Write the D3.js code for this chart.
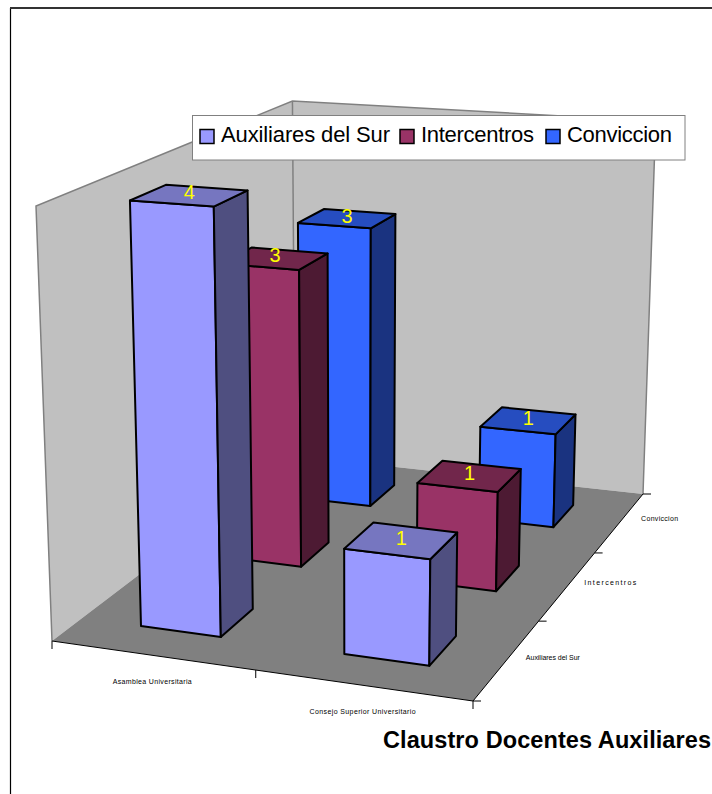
<!DOCTYPE html>
<html>
<head>
<meta charset="utf-8">
<script src="https://cdn.jsdelivr.net/npm/d3@7"></script>
<style>
  html, body { margin: 0; padding: 0; background: #fff; }
  svg { display: block; }
  text { font-family: "Liberation Sans", Arial, sans-serif; }
</style>
</head>
<body>
<svg id="chart" width="712" height="794"></svg>
<script>
// data
const categories = ["Asamblea Universitaria", "Consejo Superior Universitario"];
const seriesNames = ["Auxiliares del Sur", "Intercentros", "Conviccion"];
const auxiliares = [4, 1];
const intercentros = [3, 1];
const conviccion = [3, 1];
const seriesValues = [auxiliares, intercentros, conviccion];

const faceColors = [
  { front: "#9999ff", top: "#7676c0", side: "#4f4f80" },
  { front: "#993366", top: "#71264b", side: "#4d1a33" },
  { front: "#3366ff", top: "#264dc0", side: "#1a3380" }
];

const svg = d3.select("#chart");

// scales into the unit box: u along the front, v into the depth, w up
const xScale = d3.scaleBand().domain(d3.range(categories.length)).range([0, 1])
  .paddingInner(0.6).paddingOuter(0.3);
const zScale = d3.scaleBand().domain(d3.range(seriesNames.length)).range([0, 1])
  .paddingInner(0.62).paddingOuter(0.31);
const yScale = d3.scaleLinear().domain([0, 4.03]).range([0, 1]);

// perspective of the box, fitted on the corners of the floor and of the walls
function makeProjection(p00, p10, p11, p01, top00, s) {
  const dx1 = p10[0] - p11[0], dx2 = p01[0] - p11[0], sx = p00[0] - p10[0] + p11[0] - p01[0];
  const dy1 = p10[1] - p11[1], dy2 = p01[1] - p11[1], sy = p00[1] - p10[1] + p11[1] - p01[1];
  const den = dx1 * dy2 - dx2 * dy1;
  const g = (sx * dy2 - dx2 * sy) / den;
  const h = (dx1 * sy - sx * dy1) / den;
  const A = [p10[0] * (1 + g) - p00[0], p10[1] * (1 + g) - p00[1], g];
  const B = [p01[0] * (1 + h) - p00[0], p01[1] * (1 + h) - p00[1], h];
  const C = [s * top00[0] - p00[0], s * top00[1] - p00[1], s - 1];
  return (u, v, w) => {
    const q = u * A[2] + v * B[2] + w * C[2] + 1;
    return [
      (u * A[0] + v * B[0] + w * C[0] + p00[0]) / q,
      (u * A[1] + v * B[1] + w * C[1] + p00[1]) / q
    ];
  };
}
const project = makeProjection([52, 641], [473, 701], [643, 494], [295, 456], [36, 206], 0.95);

const line = d3.line();
function face(g, pts, fill, stroke, width) {
  g.append("path")
    .attr("d", line(pts) + "Z")
    .attr("fill", fill)
    .attr("stroke", stroke)
    .attr("stroke-width", width)
    .attr("stroke-linejoin", "round");
}

// chart border, runs off the picture on the right and at the bottom
svg.append("path")
  .attr("d", "M10.5,794V8")
  .attr("fill", "none").attr("stroke", "#000").attr("stroke-width", 1.2);
svg.append("path")
  .attr("d", "M10,8H712")
  .attr("fill", "none").attr("stroke", "#333").attr("stroke-width", 2);

// walls and floor
const walls = svg.append("g");
face(walls, [project(0, 0, 0), project(0, 0, 1), project(0, 1, 1), project(0, 1, 0)], "#c0c0c0", "none", 0);
face(walls, [project(0, 1, 0), project(0, 1, 1), project(1, 1, 1), project(1, 1, 0)], "#c0c0c0", "none", 0);
walls.append("path")
  .attr("d", line([project(0, 0, 0), project(0, 0, 1), project(0, 1, 1), project(1, 1, 1), project(1, 1, 0)]))
  .attr("fill", "none").attr("stroke", "#808080").attr("stroke-width", 1.5);
walls.append("path")
  .attr("d", line([project(0, 1, 1), project(0, 1, 0)]))
  .attr("fill", "none").attr("stroke", "#808080").attr("stroke-width", 1.5);
face(walls, [project(0, 0, 0), project(1, 0, 0), project(1, 1, 0), project(0, 1, 0)], "#808080", "none", 0);

// axis lines and ticks
const axes = svg.append("g").attr("stroke", "#000").attr("stroke-width", 1).attr("fill", "none");
axes.append("path").attr("d", line([project(0, 0, 0), project(1, 0, 0), project(1, 1, 0)]));
d3.range(categories.length + 1).forEach(i => {
  const p = project(i / categories.length, 0, 0);
  axes.append("path").attr("d", line([p, [p[0], p[1] + 8]]));
});
d3.range(seriesNames.length + 1).forEach(i => {
  const p = project(1, i / seriesNames.length, 0);
  axes.append("path").attr("d", line([p, [p[0] + 8, p[1]]]));
});

// axis labels, the widths are the ones the picture has
const categoryLabelWidth = [79, 106];
const seriesLabelWidth = [54, 52, 37];
categories.forEach((c, i) => {
  const p = project((i + 0.5) / categories.length, 0, 0);
  svg.append("text")
    .attr("x", p[0] - categoryLabelWidth[i] / 2).attr("y", p[1] + 29)
    .attr("font-size", 7)
    .attr("textLength", categoryLabelWidth[i])
    .attr("fill", "#000")
    .text(c);
});
seriesNames.forEach((s, i) => {
  const p = project(1.105, (i + 0.5) / seriesNames.length, 0);
  svg.append("text")
    .attr("x", p[0] - seriesLabelWidth[i] / 2).attr("y", p[1] - 6)
    .attr("font-size", 7)
    .attr("textLength", seriesLabelWidth[i])
    .attr("fill", "#000")
    .text(s);
});

// bars, from the back row to the front one
const barsG = svg.append("g");
const labels = [];
d3.range(seriesNames.length).reverse().forEach(s => {
  categories.forEach((c, i) => {
    const value = seriesValues[s][i];
    const u0 = xScale(i), u1 = u0 + xScale.bandwidth();
    const v0 = zScale(s), v1 = v0 + zScale.bandwidth();
    const w = yScale(value);
    const col = faceColors[s];
    const g = barsG.append("g");
    face(g, [project(u0, v0, 0), project(u1, v0, 0), project(u1, v0, w), project(u0, v0, w)], col.front, "#000", 2);
    face(g, [project(u1, v0, 0), project(u1, v1, 0), project(u1, v1, w), project(u1, v0, w)], col.side, "#000", 2);
    face(g, [project(u0, v0, w), project(u1, v0, w), project(u1, v1, w), project(u0, v1, w)], col.top, "#000", 2);
    labels.push({ g, value, p: project((u0 + u1) / 2, (v0 + v1) / 2, w) });
  });
});
labels.forEach(d => {
  d.g.append("text")
    .attr("x", d.p[0]).attr("y", d.p[1] + 4)
    .attr("text-anchor", "middle")
    .attr("font-size", 20)
    .attr("fill", "#ffff00")
    .text(d.value);
});

// legend
const legend = svg.append("g");
legend.append("rect")
  .attr("x", 192.5).attr("y", 115.5).attr("width", 492.5).attr("height", 44.5)
  .attr("fill", "#fff").attr("stroke", "#808080").attr("stroke-width", 1);
const legendX = [200, 400, 546];
const legendWidth = [169, 113, 105];
seriesNames.forEach((s, i) => {
  legend.append("rect")
    .attr("x", legendX[i]).attr("y", 129.5).attr("width", 14).attr("height", 14)
    .attr("fill", faceColors[i].front).attr("stroke", "#000").attr("stroke-width", 1.5);
  legend.append("text")
    .attr("x", legendX[i] + 21).attr("y", 142)
    .attr("font-size", 22)
    .attr("textLength", legendWidth[i])
    .attr("fill", "#000")
    .text(s);
});

// title
svg.append("text")
  .attr("x", 383).attr("y", 748)
  .attr("font-size", 23.5)
  .attr("font-weight", "bold")
  .attr("textLength", 328)
  .attr("fill", "#000")
  .text("Claustro Docentes Auxiliares");
</script>
</body>
</html>
